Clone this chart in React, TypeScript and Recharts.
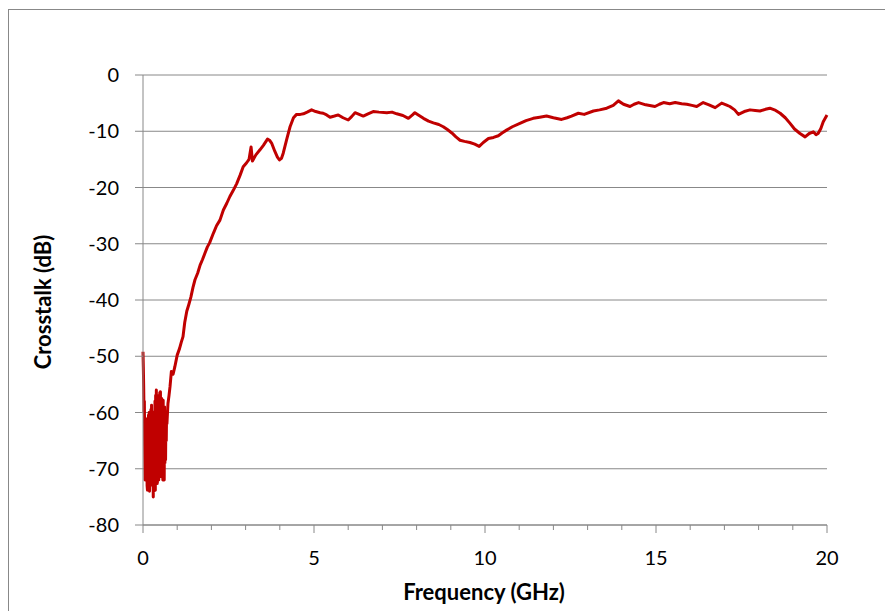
import React from "react"
import { CartesianGrid, Label, Line, LineChart, XAxis, YAxis } from "recharts"

const freqGHz = [
  0.0, 0.01, 0.02, 0.03, 0.04, 0.05, 0.06, 0.07, 0.08, 0.09, 0.1, 0.11, 0.12, 0.13, 0.14, 0.15, 0.16, 0.17,
  0.18, 0.19, 0.2, 0.21, 0.22, 0.23, 0.24, 0.25, 0.26, 0.27, 0.28, 0.29, 0.3, 0.31, 0.32, 0.33, 0.34, 0.35,
  0.36, 0.37, 0.38, 0.39, 0.4, 0.41, 0.42, 0.43, 0.44, 0.45, 0.46, 0.47, 0.48, 0.49, 0.5, 0.51, 0.52, 0.53,
  0.54, 0.55, 0.56, 0.57, 0.58, 0.59, 0.6, 0.61, 0.62, 0.63, 0.64, 0.65, 0.66, 0.67, 0.68, 0.69, 0.7, 0.73,
  0.76, 0.79, 0.83, 0.88, 0.93, 1.0, 1.07,
  1.12, 1.17, 1.22, 1.28, 1.34, 1.4, 1.46, 1.52, 1.6, 1.67, 1.74, 1.81, 1.88, 1.95, 2.06, 2.15, 2.25,
  2.35, 2.45, 2.54, 2.64, 2.74, 2.84, 2.93, 3.03, 3.1, 3.16, 3.2, 3.3, 3.42, 3.52, 3.64, 3.7, 3.76, 3.85,
  3.93, 3.99, 4.05, 4.1, 4.2, 4.3, 4.4, 4.49, 4.6, 4.69, 4.8, 4.93, 5.05, 5.18, 5.27, 5.37, 5.47, 5.6,
  5.71, 5.85, 6.0, 6.1, 6.2, 6.32, 6.44, 6.58, 6.73, 6.9, 7.13, 7.28, 7.42, 7.6, 7.76, 7.88, 7.95, 8.05,
  8.2, 8.35, 8.49, 8.65, 8.78, 8.9, 9.03, 9.15, 9.27, 9.4, 9.56, 9.7, 9.83, 9.95, 10.1, 10.25, 10.39,
  10.5, 10.63, 10.8, 11.02, 11.2, 11.41, 11.6, 11.8, 12.0, 12.24, 12.4, 12.53, 12.73, 12.9, 13.17, 13.35,
  13.56, 13.75, 13.9, 14.05, 14.24, 14.36, 14.49, 14.7, 14.97, 15.1, 15.22, 15.4, 15.56, 15.75, 15.9,
  16.05, 16.19, 16.38, 16.55, 16.73, 16.92, 17.05, 17.16, 17.3, 17.41, 17.58, 17.75, 17.9, 18.04, 18.2,
  18.33, 18.5, 18.63, 18.78, 18.92, 19.05, 19.21, 19.36, 19.48, 19.6, 19.68, 19.74, 19.82, 19.89, 20.0,
]

const crosstalkDb = [
  -49.2, -52, -55.5, -60, -58, -66, -72, -61, -68, -62, -70, -61.3, -73, -73.8, -62, -70, -60.5, -72,
  -60, -74, -72, -63, -71, -59.5, -72.5, -58.7, -69, -61, -73, -60, -75, -62, -74, -59.9, -71, -58,
  -73.8, -57, -72, -56, -70, -58, -72.6, -57.5, -71, -57.5, -72, -57, -70.5, -56.5, -71.4, -56.3, -69, -58,
  -71.4, -57.5, -70, -58, -72, -57.8, -70, -59, -72, -59, -69, -60, -68.4, -60.5, -65, -59.9, -62, -58.4,
  -57, -55.4, -52.7, -53.2, -51.9, -49.8, -48.6,
  -47.5, -46.5, -44.0, -42.0, -40.8, -39.5, -37.8, -36.4, -35.2, -33.8, -32.8, -31.7, -30.6, -29.8, -28.1, -26.8, -25.8,
  -24.0, -22.8, -21.6, -20.5, -19.3, -17.8, -16.3, -15.6, -15.0, -12.8, -15.3, -14.2, -13.3, -12.5, -11.4, -11.6, -12.1, -13.5,
  -14.6, -15.1, -14.8, -13.9, -11.5, -9.2, -7.6, -7.0, -7.0, -6.9, -6.6, -6.2, -6.5, -6.7, -6.8, -7.1, -7.5, -7.3,
  -7.1, -7.6, -8.0, -7.4, -6.7, -7.0, -7.3, -6.9, -6.5, -6.6, -6.7, -6.6, -6.9, -7.2, -7.7, -7.1, -6.7, -7.1,
  -7.7, -8.2, -8.5, -8.8, -9.2, -9.7, -10.3, -11.0, -11.6, -11.8, -12.0, -12.3, -12.7, -12.0, -11.3, -11.1, -10.8,
  -10.3, -9.8, -9.2, -8.6, -8.1, -7.7, -7.5, -7.3, -7.6, -7.9, -7.6, -7.3, -6.8, -7.0, -6.4, -6.2,
  -5.9, -5.4, -4.6, -5.2, -5.6, -5.2, -4.9, -5.3, -5.6, -5.2, -4.9, -5.1, -4.9, -5.1, -5.2,
  -5.4, -5.6, -4.9, -5.3, -5.8, -5.0, -5.3, -5.6, -6.2, -7.0, -6.5, -6.2, -6.3, -6.4, -6.1,
  -5.9, -6.3, -6.8, -7.6, -8.6, -9.6, -10.4, -11.0, -10.4, -10.1, -10.6, -10.4, -9.5, -8.3, -7.1,
]

const xTicks = [0, 1, 2, 3, 4, 5, 6, 7, 8, 9, 10, 11, 12, 13, 14, 15, 16, 17, 18, 19, 20]
const xLabels = [0, 5, 10, 15, 20]
const yTicks = [0, -10, -20, -30, -40, -50, -60, -70, -80]

const data = freqGHz.map((f, i) => ({ f, db: crosstalkDb[i] }))

const gray = "#888888"
const font = "Lato, 'Open Sans', sans-serif"

function FreqTick({ x, y, payload }: any) {
  const major = xLabels.includes(payload.value)
  return (
    <g>
      <line x1={x} x2={x} y1={y} y2={y + (major ? 8 : 5)} stroke={gray} strokeWidth={1} />
      {major && (
        <text x={x} y={y + 40} textAnchor="middle" fontSize={20} fontFamily={font} fill="#000">
          {payload.value}
        </text>
      )}
    </g>
  )
}

export default function App() {
  return (
    <>
      <div
        style={{
          position: "absolute",
          left: 8,
          top: 9,
          width: 877,
          height: 602,
          boxSizing: "border-box",
          borderLeft: `1px solid ${gray}`,
          borderTop: `1px solid ${gray}`,
        }}
      />
      <div style={{ position: "absolute", left: 0, top: 0, width: 885, height: 611 }}>
        <LineChart width={885} height={611} data={data} margin={{ top: 75, right: 58, left: 63, bottom: 26 }}>
          <CartesianGrid vertical={false} stroke={gray} strokeWidth={1} />
          <XAxis
            dataKey="f"
            type="number"
            domain={[0, 20]}
            ticks={xTicks}
            interval={0}
            height={60}
            stroke={gray}
            tickLine={false}
            tickSize={0}
            tickMargin={0}
            tick={<FreqTick />}
          >
            <Label
              content={() => (
                <text x={484} y={600} textAnchor="middle" fontSize={22} fontWeight={700} fontFamily={font} fill="#000">
                  Frequency (GHz)
                </text>
              )}
            />
          </XAxis>
          <YAxis
            type="number"
            domain={[-80, 0]}
            ticks={yTicks}
            interval={0}
            width={80}
            stroke={gray}
            tickSize={8}
            tickMargin={16}
            tick={{ fontSize: 20, fontFamily: font, fill: "#000" }}
          >
            <Label
              content={() => (
                <text
                  x={42}
                  y={302}
                  transform="rotate(-90 42 302)"
                  textAnchor="middle"
                  dominantBaseline="central"
                  fontSize={22}
                  fontWeight={700}
                  fontFamily={font}
                  fill="#000"
                >
                  Crosstalk (dB)
                </text>
              )}
            />
          </YAxis>
          <Line
            dataKey="db"
            type="linear"
            stroke="#C00000"
            strokeWidth={3}
            strokeLinejoin="round"
            dot={false}
            activeDot={false}
            isAnimationActive={false}
          />
        </LineChart>
      </div>
    </>
  )
}
